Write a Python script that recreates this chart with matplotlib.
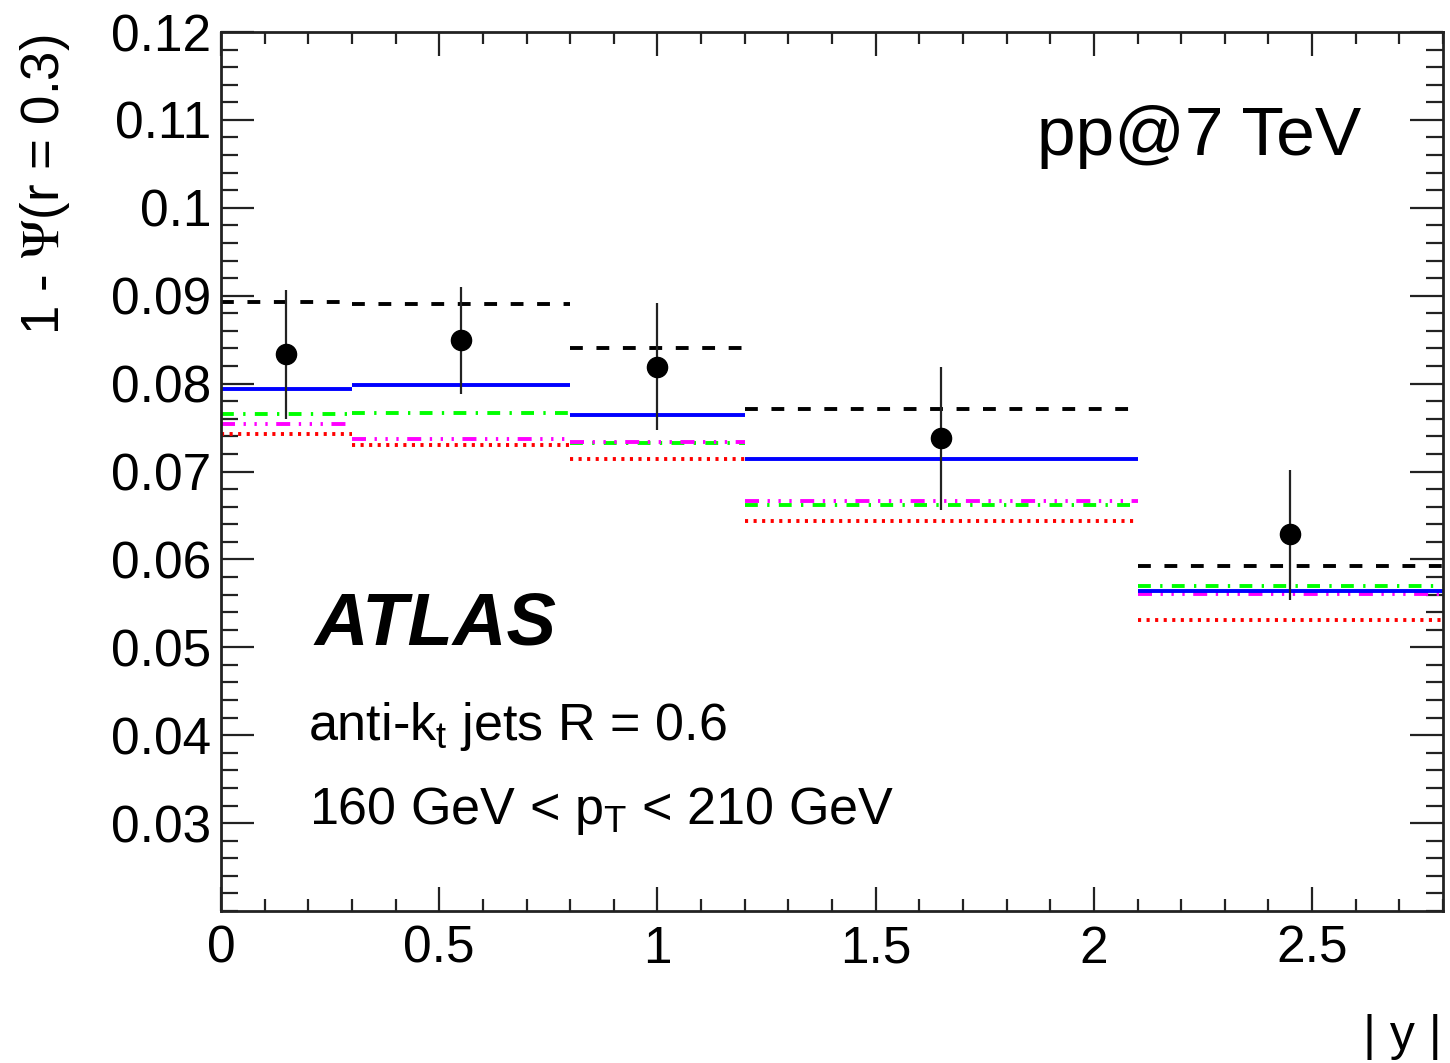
import numpy as np
import matplotlib
matplotlib.use("Agg")
import matplotlib.pyplot as plt
from matplotlib.ticker import MultipleLocator

plt.rcParams['font.family'] = ['Liberation Sans', 'DejaVu Sans']
plt.rcParams['mathtext.fontset'] = 'custom'
plt.rcParams['mathtext.rm'] = 'Liberation Sans'
plt.rcParams['mathtext.it'] = 'Liberation Sans:italic'
plt.rcParams['mathtext.bf'] = 'Liberation Sans:bold'

# ---- data ----
bin_edges = [0.0, 0.3, 0.8, 1.2, 2.1, 2.8]
data_x = [0.15, 0.55, 1.0, 1.65, 2.45]
data_y = [0.0834, 0.0850, 0.0819, 0.0738, 0.0629]
data_err_hi = [0.0906, 0.0910, 0.0892, 0.0819, 0.0702]
data_err_lo = [0.0760, 0.0788, 0.0747, 0.0656, 0.0554]

mc_black = [0.0893, 0.0891, 0.0840, 0.0771, 0.0592]
mc_blue = [0.0794, 0.0798, 0.0764, 0.0714, 0.0564]
mc_green = [0.0765, 0.0767, 0.0732, 0.0662, 0.0570]
mc_magenta = [0.0754, 0.0737, 0.0733, 0.0666, 0.0561]
mc_red = [0.0743, 0.0730, 0.0714, 0.0644, 0.0531]

x_ticks = [0, 0.5, 1, 1.5, 2, 2.5]
x_ticklabels = ['0', '0.5', '1', '1.5', '2', '2.5']
y_ticks = [0.03, 0.04, 0.05, 0.06, 0.07, 0.08, 0.09, 0.1, 0.11, 0.12]
y_ticklabels = ['0.03', '0.04', '0.05', '0.06', '0.07', '0.08', '0.09', '0.1', '0.11', '0.12']

fig = plt.figure(figsize=(14.5, 10.63), dpi=100)
ax = fig.add_axes([221/1450, 1-911/1063, (1443-221)/1450, (911-32)/1063])
ax.set_xlim(0, 2.8)
ax.set_ylim(0.02, 0.12)

lo = np.array(bin_edges[:-1])
hi = np.array(bin_edges[1:])
lw = 2.8

ax.hlines(mc_red, lo, hi, colors='#ff0000', lw=lw, linestyles=[(0, (0.8, 1.4))])
ax.hlines(mc_green, lo, hi, colors='#00ff00', lw=lw, linestyles=[(0, (3.3, 2.4, 0.6, 2.4))])
ax.hlines(mc_magenta, lo, hi, colors='#ff00ff', lw=lw,
          linestyles=[(0, (3.6, 2.2, 0.6, 2.2, 0.6, 2.2, 0.6, 2.2))])
ax.hlines(mc_black, lo, hi, colors='black', lw=lw, linestyles=[(0, (3.3, 3.5))])
ax.hlines(mc_blue, lo, hi, colors='#0000ff', lw=lw, linestyles='solid')

yerr = [np.array(data_y) - np.array(data_err_lo), np.array(data_err_hi) - np.array(data_y)]
ax.errorbar(data_x, data_y, yerr=yerr, fmt='o', color='black', ms=14.5,
            ecolor='#222222', elinewidth=1.6, capsize=0, zorder=5)

ax.set_xticks(x_ticks)
ax.set_xticklabels(x_ticklabels)
ax.set_yticks(y_ticks)
ax.set_yticklabels(y_ticklabels)
ax.xaxis.set_minor_locator(MultipleLocator(0.1))
ax.yaxis.set_minor_locator(MultipleLocator(0.002))
ax.tick_params(which='both', direction='in', top=True, right=True, width=1.6, color='#222222')
ax.tick_params(axis='x', which='major', length=17, labelsize=37, pad=10)
ax.tick_params(axis='x', which='minor', length=8.5)
ax.tick_params(axis='y', which='major', length=24, labelsize=37, pad=7)
ax.tick_params(axis='y', which='minor', length=12.5)
for s in ax.spines.values():
    s.set_linewidth(2.0)
    s.set_color('#222222')

fig.text(45/1450, 1-35/1063, r'1 - $\Psi$(r = 0.3)', rotation=90, ha='center', va='top',
         fontsize=38, math_fontfamily='stix')
fig.text(1442/1450, 1-1050/1063, '| y |', ha='right', va='baseline', fontsize=36)

fig.text(1037/1450, 1-155/1063, 'pp@7 TeV', ha='left', va='baseline', fontsize=50)
fig.text(315/1450, 1-646/1063, 'ATLAS', ha='left', va='baseline', fontsize=53.5,
         fontweight='bold', fontstyle='italic')
fig.text(308/1450, 1-740/1063, r'anti-k$_{\mathrm{t}}$ jets R = 0.6', ha='left', va='baseline', fontsize=37.5)
fig.text(309/1450, 1-824/1063, r'160 GeV < p$_{\mathrm{T}}$ < 210 GeV', ha='left', va='baseline', fontsize=37.5)

fig.savefig('out.png', dpi=100)
